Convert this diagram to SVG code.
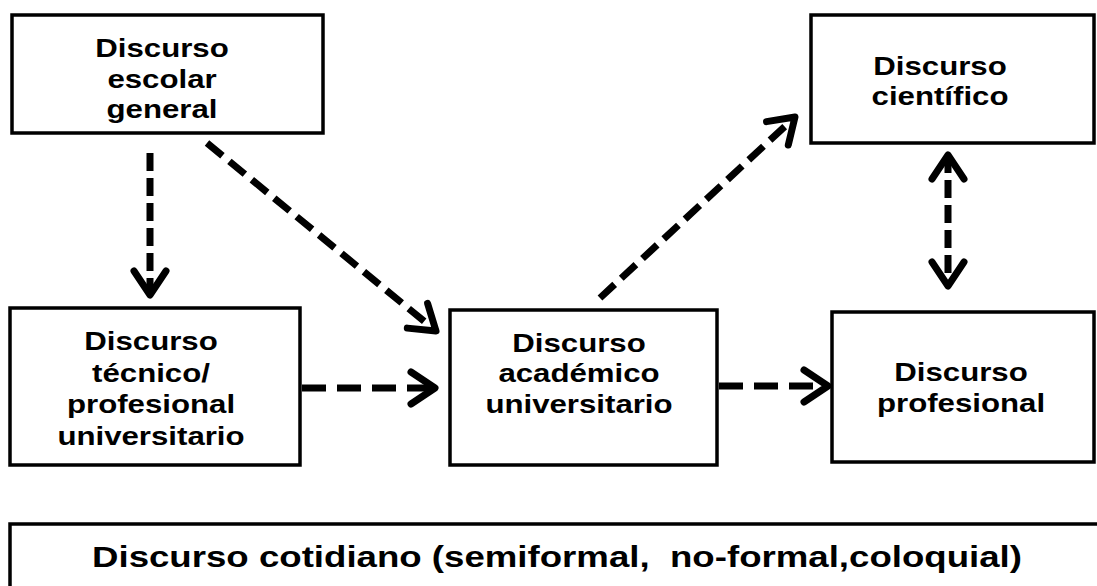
<svg xmlns="http://www.w3.org/2000/svg" width="1097" height="586" viewBox="0 0 1097 586">
<style>
.box{fill:#fff;stroke:#000;stroke-width:3.5}
.t{font-family:"Liberation Sans",Arial,sans-serif;font-weight:bold;font-size:26px;text-anchor:middle;fill:#000}
.c{fill:none;stroke:#000;stroke-width:7}
.h{stroke-dasharray:24 11}
.v{stroke-dasharray:18 7}
.d{stroke-dasharray:20 9}
</style>
<defs>
<marker id="ah" markerUnits="userSpaceOnUse" markerWidth="40" markerHeight="40" viewBox="-30 -20 40 40" refX="0" refY="0" orient="auto-start-reverse">
<path d="M -24 -16 L 0 0 L -24 16" fill="none" stroke="#000" stroke-width="7" stroke-linecap="round" stroke-linejoin="round"/>
</marker>
</defs>
<g id="connectors">
<line class="c v" x1="150" y1="153" x2="150" y2="295" marker-end="url(#ah)"/>
<line class="c d" x1="207" y1="143" x2="436" y2="331" marker-end="url(#ah)"/>
<line class="c h" x1="302" y1="388" x2="435" y2="388" marker-end="url(#ah)"/>
<line class="c h" x1="719" y1="386" x2="828" y2="386" marker-end="url(#ah)"/>
<line class="c d" x1="600" y1="298" x2="795" y2="117" marker-end="url(#ah)"/>
<line class="c v" x1="948" y1="155" x2="948" y2="286" marker-start="url(#ah)" marker-end="url(#ah)"/>
</g>
<g id="escolar">
<rect class="box" x="12" y="15" width="311" height="118"/>
<g transform="translate(162 0) scale(1.2 1)">
<text class="t" x="0" y="57">Discurso</text>
<text class="t" x="0" y="88">escolar</text>
<text class="t" x="0" y="118">general</text>
</g>
</g>
<g id="cientifico">
<rect class="box" x="811" y="15" width="283" height="128"/>
<g transform="translate(940 0) scale(1.2 1)">
<text class="t" x="0" y="75">Discurso</text>
<text class="t" x="0" y="105">científico</text>
</g>
</g>
<g id="tecnico">
<rect class="box" x="10" y="308" width="290" height="157"/>
<g transform="translate(151 0) scale(1.2 1)">
<text class="t" x="0" y="350">Discurso</text>
<text class="t" x="0" y="382">técnico/</text>
<text class="t" x="0" y="413">profesional</text>
<text class="t" x="0" y="445">universitario</text>
</g>
</g>
<g id="academico">
<rect class="box" x="450" y="310" width="267" height="155"/>
<g transform="translate(579 0) scale(1.2 1)">
<text class="t" x="0" y="352">Discurso</text>
<text class="t" x="0" y="382">académico</text>
<text class="t" x="0" y="413">universitario</text>
</g>
</g>
<g id="profesional">
<rect class="box" x="832" y="312" width="262" height="150"/>
<g transform="translate(961 0) scale(1.2 1)">
<text class="t" x="0" y="381">Discurso</text>
<text class="t" x="0" y="412">profesional</text>
</g>
</g>
<g id="cotidiano">
<rect class="box" x="10" y="524" width="1100" height="100"/>
<text x="92" y="567" font-family="Liberation Sans, Arial, sans-serif" font-weight="bold" font-size="29" textLength="930" lengthAdjust="spacingAndGlyphs" xml:space="preserve">Discurso cotidiano (semiformal,  no-formal,coloquial)</text>
</g>
</svg>
